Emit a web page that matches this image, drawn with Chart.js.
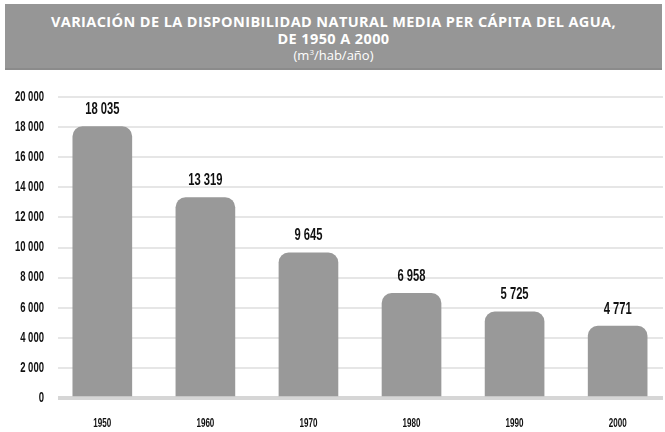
<!DOCTYPE html>
<html>
<head>
<meta charset="utf-8">
<script src="https://cdn.jsdelivr.net/npm/chart.js@4.4.0/dist/chart.umd.min.js"></script>
<style>
	body { margin: 0; background: #fff; }
	#wrap { position: relative; width: 665px; height: 432px; }
	#head { position: absolute; left: 5px; top: 4px; width: 657px; height: 64px; background: #969696; border-bottom: 2px solid #8b8b8b; color: #fff; text-align: center; font-family: 'Open Sans', sans-serif; }
	#head div { position: absolute; left: 0; width: 100%; }
	.t1 { top: 8px; font-size: 14.5px; font-weight: bold; letter-spacing: 0.4px; }
	.t2 { top: 25px; font-size: 14.5px; font-weight: bold; letter-spacing: 0.4px; }
	.t3 { top: 42px; font-size: 13px; }
	canvas { position: absolute; left: 0; top: 0; }
</style>
</head>
<body>
<div id="wrap">
	<canvas id="mycanvas" width="665" height="432"></canvas>
	<div id="head">
		<div class="t1">VARIACIÓN DE LA DISPONIBILIDAD NATURAL MEDIA PER CÁPITA DEL AGUA,</div>
		<div class="t2">DE 1950 A 2000</div>
		<div class="t3">(m<sup style="font-size:8px">3</sup>/hab/año)</div>
	</div>
</div>
<script>
var years = [1950, 1960, 1970, 1980, 1990, 2000];
var volumes = [18035, 13319, 9645, 6958, 5725, 4771];
var yTicks = [0, 2000, 4000, 6000, 8000, 10000, 12000, 14000, 16000, 18000, 20000];

var labelFont = "'Liberation Sans', Arial, sans-serif";

function fmt(n) {
	return String(n).replace(/\B(?=(\d{3})+(?!\d))/g, ' ');
}

// the source uses a very narrow typeface, so text is squeezed horizontally
function narrowText(ctx, text, x, y, size, squeeze, align) {
	ctx.save();
	ctx.font = 'bold ' + size + 'px ' + labelFont;
	ctx.textAlign = align;
	ctx.textBaseline = 'middle';
	ctx.translate(x, y);
	ctx.scale(squeeze, 1);
	ctx.fillText(text, 0, 0);
	ctx.restore();
}

var points = [];
for (var i in years) {
	points.push({x: years[i], y: volumes[i]});
}

var narrowLabels = {
	id: 'narrowLabels',
	afterDraw: function(chart) {
		var ctx = chart.ctx;
		var xs = chart.scales.x, ys = chart.scales.y;
		ctx.save();
		ctx.fillStyle = '#111';
		ys.ticks.forEach(function(t) {
			narrowText(ctx, fmt(t.value), 44, ys.getPixelForValue(t.value), 14, 0.68, 'right');
		});
		xs.ticks.forEach(function(t) {
			narrowText(ctx, String(t.value), xs.getPixelForValue(t.value), 423, 13, 0.62, 'center');
		});
		chart.getDatasetMeta(0).data.forEach(function(bar, i) {
			narrowText(ctx, fmt(volumes[i]), bar.x, bar.y - 17, 16, 0.7, 'center');
		});
		ctx.restore();
	}
};

Chart.defaults.devicePixelRatio = 1;

var ctx = document.getElementById('mycanvas');
var barGraph = new Chart(ctx, {
	type: 'bar',
	data: {
		datasets: [{
			data: points,
			backgroundColor: '#999999',
			barThickness: 59,
			borderRadius: {topLeft: 10, topRight: 10, bottomLeft: 0, bottomRight: 0},
			borderSkipped: 'bottom'
		}]
	},
	options: {
		responsive: false,
		animation: false,
		layout: { padding: { top: 97, right: 2, left: 0, bottom: 0 } },
		plugins: { legend: { display: false }, tooltip: { enabled: false } },
		scales: {
			x: {
				type: 'linear',
				offset: false,
				min: 1945.7,
				max: 2004.4,
				afterBuildTicks: function(scale) {
					scale.ticks = years.map(function(y) { return {value: y}; });
				},
				afterFit: function(scale) { scale.height = 34; },
				grid: { display: false, drawTicks: false, offset: false },
				border: { display: false },
				ticks: { display: false }
			},
			y: {
				min: 0,
				max: 20000,
				afterBuildTicks: function(scale) {
					scale.ticks = yTicks.map(function(v) { return {value: v}; });
				},
				afterFit: function(scale) { scale.width = 58; },
				grid: {
					drawTicks: false,
					color: function(c) { return c.tick && c.tick.value === 0 ? '#d6d6d6' : '#e6e6e6'; },
					lineWidth: function(c) { return c.tick && c.tick.value === 0 ? 4 : 2; }
				},
				border: { display: false },
				ticks: { display: false }
			}
		}
	},
	plugins: [narrowLabels]
});
</script>
</body>
</html>
